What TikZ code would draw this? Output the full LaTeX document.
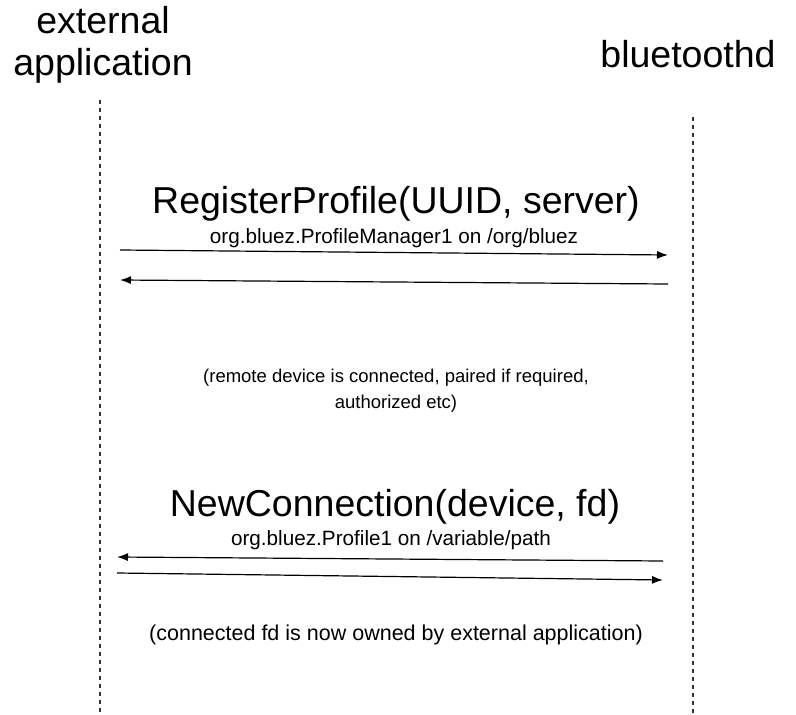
\documentclass[tikz,border=0pt]{standalone}
\usepackage{fontspec}
\setmainfont{Liberation Sans}
\usetikzlibrary{arrows.meta}
\begin{document}
\begin{tikzpicture}[x=1pt, y=-1pt, >={Latex[length=11pt,width=8pt]}]
      \tikzset{lifeline/.style={draw=black!80, line width=1.3pt, dash pattern=on 4pt off 4pt},
               msg/.style={->, line width=1.2pt},
               head/.style={font=\fontsize{37.5}{42}\selectfont, align=center, inner sep=0pt},
               call/.style={font=\fontsize{37.5}{40}\selectfont, inner sep=0pt, anchor=base},
               iface/.style={font=\fontsize{20.7}{22}\selectfont, inner sep=0pt, anchor=base},
               note/.style={font=\fontsize{18.5}{26}\selectfont, align=center, inner sep=0pt}}
      \useasboundingbox (0,0) rectangle (796,715);
      % participants
      \node[head] (app) at (103,45) {external\\application};
      \node[head, anchor=base] (bluez) at (688,67) {bluetoothd};
      \coordinate (apptop) at (100,100);
      \coordinate (appbot) at (100,715);
      \coordinate (bluetop) at (693,117);
      \coordinate (bluebot) at (693,715);
      \draw[lifeline] (apptop) -- (appbot);
      \draw[lifeline] (bluetop) -- (bluebot);
      % profile registration
      \node[call] (reg) at (396,213) {RegisterProfile(UUID, server)};
      \node[iface] (regif) at (394,243) {org.bluez.ProfileManager1 on /org/bluez};
      \coordinate (r1a) at (120,250);
      \coordinate (r1b) at (668,255);
      \coordinate (r2a) at (668,284);
      \coordinate (r2b) at (120,280);
      \draw[msg] (r1a) -- (r1b);
      \draw[msg] (r2a) -- (r2b);
      \node[note] (remote) at (396,391) {(remote device is connected, paired if required,\\authorized etc)};
      % new connection
      \node[call] (conn) at (395,516) {NewConnection(device, fd)};
      \node[iface] (connif) at (391,545) {org.bluez.Profile1 on /variable/path};
      \coordinate (c1a) at (663,561);
      \coordinate (c1b) at (117,557);
      \coordinate (c2a) at (117,573);
      \coordinate (c2b) at (663,580);
      \draw[msg] (c1a) -- (c1b);
      \draw[msg] (c2a) -- (c2b);
      \node[note, font=\fontsize{21.5}{26}\selectfont] (owned) at (396,635) {(connected fd is now owned by external application)};
    \end{tikzpicture}
\end{document}
